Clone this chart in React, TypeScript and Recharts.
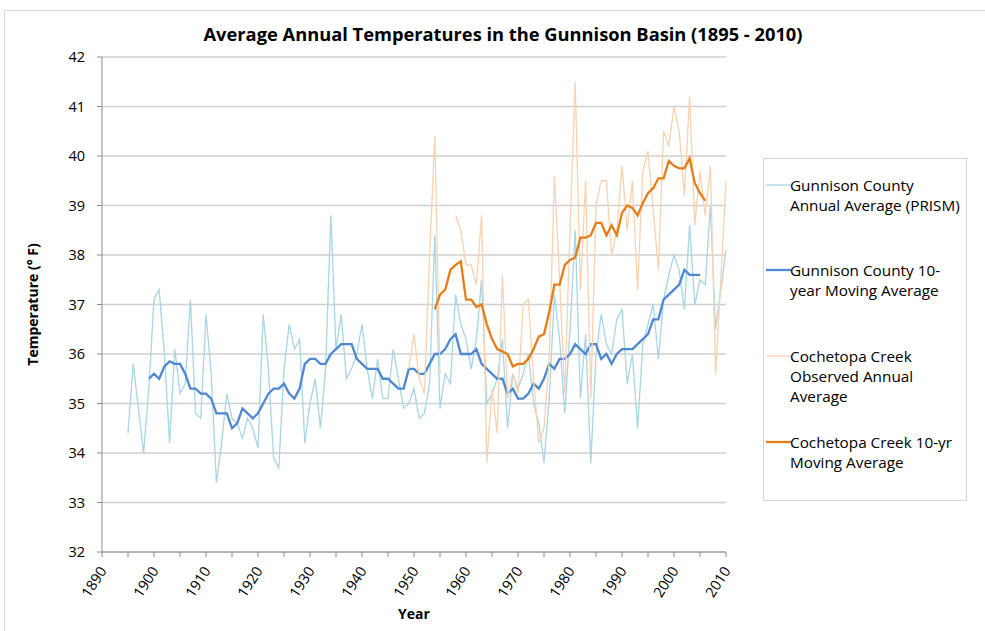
import { LineChart, Line, XAxis, YAxis, CartesianGrid } from "recharts";

const FIRST_YEAR = 1895;

// Gunnison County annual average (PRISM), 1895 - 2010
const gunnisonAnnual = [
  34.4, 35.8, 34.9, 34.0, 35.3, 37.1, 37.3, 36.0, 34.2, 36.1,
  35.2, 35.4, 37.1, 34.8, 34.7, 36.8, 35.6, 33.4, 34.2, 35.2,
  34.7, 34.6, 34.3, 34.7, 34.5, 34.1, 36.8, 35.7, 33.9, 33.7,
  35.7, 36.6, 36.1, 36.3, 34.2, 35.0, 35.5, 34.5, 35.7, 38.8,
  36.1, 36.8, 35.5, 35.7, 36.0, 36.6, 35.7, 35.1, 35.9, 35.1,
  35.1, 36.1, 35.5, 34.9, 35.0, 35.3, 34.7, 34.8, 35.4, 38.4,
  34.9, 35.6, 35.4, 37.2, 36.6, 36.3, 35.7, 36.3, 37.5, 35.0,
  35.2, 35.5, 36.3, 34.5, 35.6, 35.3, 35.6, 36.0, 35.0, 34.6,
  33.8, 35.1, 37.2, 36.3, 34.8, 36.5, 38.5, 35.1, 36.4, 33.8,
  36.0, 36.8, 36.2, 36.0, 36.7, 36.9, 35.4, 36.0, 34.5, 36.2,
  36.6, 37.0, 35.9, 37.1, 37.6, 38.0, 37.7, 36.9, 38.6, 37.0,
  37.5, 37.4, 39.0, 36.5, 37.3, 38.1,
];

// Gunnison County 10-year moving average, 1899 - 2005
const GUNNISON_MA_START = 1899;
const gunnisonMA = [
  35.5, 35.6, 35.5, 35.75, 35.85, 35.8, 35.8, 35.6, 35.3, 35.3,
  35.2, 35.2, 35.1, 34.8, 34.8, 34.8, 34.5, 34.6, 34.9, 34.8,
  34.7, 34.8, 35.0, 35.2, 35.3, 35.3, 35.4, 35.2, 35.1, 35.3,
  35.8, 35.9, 35.9, 35.8, 35.8, 36.0, 36.1, 36.2, 36.2, 36.2,
  35.9, 35.8, 35.7, 35.7, 35.7, 35.5, 35.5, 35.4, 35.3, 35.3,
  35.7, 35.7, 35.6, 35.6, 35.8, 36.0, 36.0, 36.1, 36.3, 36.4,
  36.0, 36.0, 36.0, 36.1, 35.8, 35.7, 35.6, 35.5, 35.5, 35.2,
  35.3, 35.1, 35.1, 35.2, 35.4, 35.3, 35.5, 35.8, 35.7, 35.9,
  35.9, 36.0, 36.2, 36.1, 36.0, 36.2, 36.2, 35.9, 36.0, 35.8,
  36.0, 36.1, 36.1, 36.1, 36.2, 36.3, 36.4, 36.7, 36.7, 37.1,
  37.2, 37.3, 37.4, 37.7, 37.6, 37.6, 37.6,
];

// Cochetopa Creek observed annual average, 1949 - 2010 (null = missing year)
const COCHETOPA_START = 1949;
const cochetopaAnnual = [
  35.7, 36.4, 35.5, 35.2, 38.0, 40.4, 35.6, null, null, 38.8,
  38.5, 37.8, 37.8, 37.4, 38.8, 33.8, 35.3, 34.4, 37.6, 35.1,
  35.6, 35.2, 37.0, 37.1, 35.5, 34.2, 34.5, 35.9, 39.6, 37.5,
  35.2, 38.5, 41.5, 37.3, 39.5, 35.1, 39.0, 39.5, 39.5, 38.0,
  38.5, 39.8, 38.5, 39.5, 37.3, 39.7, 40.1, 38.9, 37.7, 40.5,
  40.2, 41.0, 40.5, 39.2, 41.2, 38.6, 39.7, 38.8, 39.8, 35.6,
  37.5, 39.5,
];

// Cochetopa Creek 10-yr moving average, 1954 - 2006
const COCHETOPA_MA_START = 1954;
const cochetopaMA = [
  36.9, 37.2, 37.3, 37.7, 37.8, 37.87, 37.1, 37.1, 36.95, 37.0,
  36.6, 36.3, 36.1, 36.05, 36.0, 35.75, 35.8, 35.8, 35.9, 36.1,
  36.35, 36.4, 36.85, 37.4, 37.4, 37.8, 37.9, 37.95, 38.35, 38.35,
  38.4, 38.65, 38.65, 38.4, 38.6, 38.4, 38.85, 39.0, 38.95, 38.8,
  39.05, 39.25, 39.35, 39.55, 39.55, 39.9, 39.8, 39.75, 39.75, 39.95,
  39.45, 39.25, 39.1,
];

const yTicks = [32, 33, 34, 35, 36, 37, 38, 39, 40, 41, 42];
const xTicks = [
  1890, 1895, 1900, 1905, 1910, 1915, 1920, 1925, 1930, 1935, 1940, 1945,
  1950, 1955, 1960, 1965, 1970, 1975, 1980, 1985, 1990, 1995, 2000, 2005, 2010,
];

const series = [
  { key: "gunnisonAnnual", name: "Gunnison County Annual Average (PRISM)", lines: ["Gunnison County", "Annual Average (PRISM)"], color: "#a7d6e4", width: 1.3 },
  { key: "gunnisonMA", name: "Gunnison County 10-year Moving Average", lines: ["Gunnison County 10-", "year Moving Average"], color: "#4f88d2", width: 2.3 },
  { key: "cochetopaAnnual", name: "Cochetopa Creek Observed Annual Average", lines: ["Cochetopa Creek", "Observed Annual", "Average"], color: "#fad2b0", width: 1.3 },
  { key: "cochetopaMA", name: "Cochetopa Creek 10-yr Moving Average", lines: ["Cochetopa Creek 10-yr", "Moving Average"], color: "#e67e17", width: 2.3 },
];

const pick = (arr: (number | null)[], start: number, year: number) => {
  const v = arr[year - start];
  return v === undefined ? null : v;
};

const data = gunnisonAnnual.map((_, i) => {
  const year = FIRST_YEAR + i;
  return {
    year,
    gunnisonAnnual: pick(gunnisonAnnual, FIRST_YEAR, year),
    gunnisonMA: pick(gunnisonMA, GUNNISON_MA_START, year),
    cochetopaAnnual: pick(cochetopaAnnual, COCHETOPA_START, year),
    cochetopaMA: pick(cochetopaMA, COCHETOPA_MA_START, year),
  };
});

const FONT = "'Open Sans', sans-serif";
const AXIS_GREY = "#8c8c8c";

function YearTick({ x, y, payload }: any) {
  if (payload.value % 10 !== 0) return <g />;
  const ax = x + 1;
  const ay = y + 9;
  return (
    <text
      x={ax}
      y={ay}
      transform={`rotate(-57 ${ax} ${ay})`}
      textAnchor="end"
      dy="0.35em"
      fontSize={14.5}
      fontFamily={FONT}
      fill="#000"
    >
      {payload.value}
    </text>
  );
}

function YTitle({ viewBox }: any) {
  const cy = viewBox.y + viewBox.height / 2;
  const cx = 33;
  return (
    <text x={cx} y={cy} transform={`rotate(-90 ${cx} ${cy})`} textAnchor="middle" dy="0.35em" fontSize={14} fontWeight="bold" fontFamily={FONT} fill="#000">
      Temperature (° F)
    </text>
  );
}

function XTitle({ viewBox }: any) {
  const cx = viewBox.x + viewBox.width / 2;
  return (
    <text x={cx} y={614} textAnchor="middle" dy="0.35em" fontSize={14} fontWeight="bold" fontFamily={FONT} fill="#000">
      Year
    </text>
  );
}

function LegendBox() {
  const tops = [16, 101, 187, 273];
  return (
    <div
      style={{
        position: "absolute",
        left: 763,
        top: 158,
        width: 202,
        height: 341,
        border: "1px solid #d4d4d4",
        fontFamily: FONT,
        fontSize: 15.3,
        color: "#000",
      }}
    >
      {series.map((s, i) => (
        <div key={s.key} style={{ position: "absolute", left: 0, top: tops[i], width: 200 }}>
          <svg width={27} height={20} style={{ position: "absolute", left: 1, top: 0 }}>
            <line x1={1} y1={10} x2={26} y2={10} stroke={s.color} strokeWidth={s.width} />
          </svg>
          <div style={{ position: "absolute", left: 26, top: 0, lineHeight: "20px", whiteSpace: "nowrap" }}>
            {s.lines.map((l) => (
              <div key={l}>{l}</div>
            ))}
          </div>
        </div>
      ))}
    </div>
  );
}

export default function App() {
  return (
    <div style={{ position: "absolute", left: 0, top: 0, width: 985, height: 631, background: "#fff", overflow: "hidden", fontFamily: FONT }}>
      <div style={{ position: "absolute", left: 4, top: 10, width: 995, height: 640, border: "1px solid #d9d9d9" }} />
      <div
        style={{
          position: "absolute",
          left: 0,
          top: 21,
          width: 1006,
          textAlign: "center",
          fontSize: 18.3,
          fontWeight: "bold",
          color: "#000",
        }}
      >
        Average Annual Temperatures in the Gunnison Basin (1895 - 2010)
      </div>
      <div style={{ position: "absolute", left: 0, top: 0 }}>
        <LineChart width={985} height={631} data={data} margin={{ top: 57, right: 259, bottom: 19, left: 0 }}>
          <CartesianGrid vertical={false} stroke="#d0d0d0" strokeWidth={1.3} />
          <XAxis
            dataKey="year"
            type="number"
            domain={[1890, 2010]}
            ticks={xTicks}
            interval={0}
            height={60}
            tickSize={5}
            tick={<YearTick />}
            tickLine={{ stroke: AXIS_GREY }}
            axisLine={{ stroke: AXIS_GREY }}
            label={<XTitle />}
          />
          <YAxis
            type="number"
            domain={[32, 42]}
            ticks={yTicks}
            interval={0}
            width={102}
            tickSize={5}
            tickMargin={12}
            tick={{ fontSize: 14.5, fill: "#000", fontFamily: FONT }}
            tickLine={{ stroke: AXIS_GREY }}
            axisLine={{ stroke: AXIS_GREY }}
            label={<YTitle />}
          />
          {series.map((s) => (
            <Line
              key={s.key}
              type="linear"
              dataKey={s.key}
              name={s.name}
              stroke={s.color}
              strokeWidth={s.width}
              dot={false}
              activeDot={false}
              isAnimationActive={false}
            />
          ))}
        </LineChart>
      </div>
      <LegendBox />
    </div>
  );
}
